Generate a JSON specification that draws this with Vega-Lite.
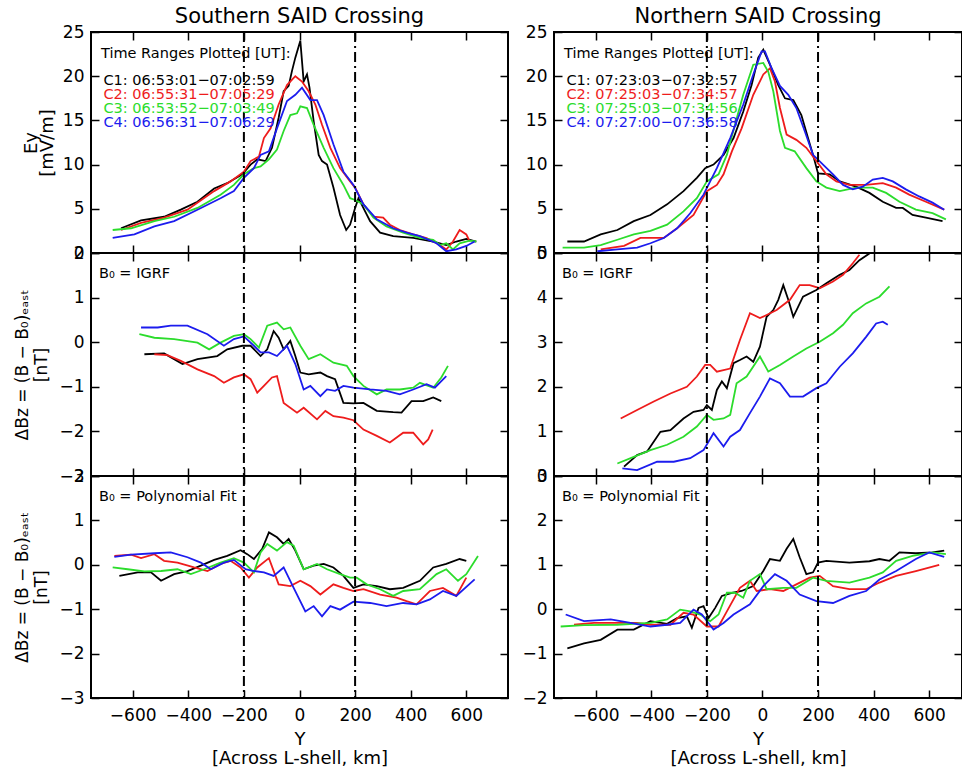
{
"$schema": "https://vega.github.io/schema/vega-lite/v6.json",
"padding": {"left": 12, "top": 4, "right": 0, "bottom": 0},
"autosize": {"type": "pad"},
"datasets": {
"ey_s": [
{"sc":"C1","km":-642,"v":2.8},{"sc":"C1","km":-570,"v":3.7},{"sc":"C1","km":-487,"v":4.1},{"sc":"C1","km":-427,"v":4.9},{"sc":"C1","km":-367,"v":5.8},{"sc":"C1","km":-307,"v":7.3},{"sc":"C1","km":-260,"v":7.9},{"sc":"C1","km":-206,"v":8.9},{"sc":"C1","km":-176,"v":10.0},{"sc":"C1","km":-152,"v":10.6},{"sc":"C1","km":-122,"v":10.4},{"sc":"C1","km":-99,"v":11.9},{"sc":"C1","km":-75,"v":15.3},{"sc":"C1","km":-57,"v":18.3},{"sc":"C1","km":-39,"v":18.9},{"sc":"C1","km":-27,"v":20.6},{"sc":"C1","km":-15,"v":22.1},{"sc":"C1","km":3,"v":24.0},{"sc":"C1","km":15,"v":19.4},{"sc":"C1","km":27,"v":20.2},{"sc":"C1","km":36,"v":18.7},{"sc":"C1","km":51,"v":14.9},{"sc":"C1","km":69,"v":11.1},{"sc":"C1","km":81,"v":10.4},{"sc":"C1","km":99,"v":10.0},{"sc":"C1","km":122,"v":7.4},{"sc":"C1","km":146,"v":4.3},{"sc":"C1","km":168,"v":2.6},{"sc":"C1","km":182,"v":3.2},{"sc":"C1","km":200,"v":5.1},{"sc":"C1","km":212,"v":6.2},{"sc":"C1","km":254,"v":3.6},{"sc":"C1","km":290,"v":2.3},{"sc":"C1","km":337,"v":1.9},{"sc":"C1","km":409,"v":1.7},{"sc":"C1","km":481,"v":1.3},{"sc":"C1","km":528,"v":0.9},{"sc":"C1","km":564,"v":1.3},{"sc":"C1","km":600,"v":1.6},{"sc":"C1","km":636,"v":1.3},
{"sc":"C2","km":-642,"v":2.6},{"sc":"C2","km":-570,"v":3.4},{"sc":"C2","km":-487,"v":4.0},{"sc":"C2","km":-403,"v":4.9},{"sc":"C2","km":-307,"v":7.0},{"sc":"C2","km":-248,"v":8.1},{"sc":"C2","km":-200,"v":9.2},{"sc":"C2","km":-176,"v":10.4},{"sc":"C2","km":-146,"v":10.9},{"sc":"C2","km":-128,"v":13.0},{"sc":"C2","km":-104,"v":14.1},{"sc":"C2","km":-75,"v":16.8},{"sc":"C2","km":-45,"v":19.0},{"sc":"C2","km":-15,"v":20.0},{"sc":"C2","km":9,"v":19.4},{"sc":"C2","km":33,"v":18.3},{"sc":"C2","km":57,"v":16.8},{"sc":"C2","km":81,"v":14.5},{"sc":"C2","km":111,"v":11.9},{"sc":"C2","km":146,"v":9.6},{"sc":"C2","km":182,"v":8.1},{"sc":"C2","km":200,"v":7.4},{"sc":"C2","km":230,"v":5.5},{"sc":"C2","km":266,"v":4.1},{"sc":"C2","km":301,"v":4.0},{"sc":"C2","km":325,"v":3.2},{"sc":"C2","km":361,"v":2.6},{"sc":"C2","km":409,"v":2.1},{"sc":"C2","km":457,"v":1.7},{"sc":"C2","km":505,"v":0.9},{"sc":"C2","km":528,"v":0.4},{"sc":"C2","km":552,"v":1.3},{"sc":"C2","km":576,"v":2.6},{"sc":"C2","km":600,"v":2.1},{"sc":"C2","km":612,"v":1.3},
{"sc":"C3","km":-672,"v":2.6},{"sc":"C3","km":-606,"v":2.8},{"sc":"C3","km":-522,"v":3.6},{"sc":"C3","km":-451,"v":4.1},{"sc":"C3","km":-367,"v":5.1},{"sc":"C3","km":-284,"v":6.6},{"sc":"C3","km":-236,"v":7.7},{"sc":"C3","km":-200,"v":8.9},{"sc":"C3","km":-164,"v":9.6},{"sc":"C3","km":-140,"v":9.8},{"sc":"C3","km":-110,"v":10.6},{"sc":"C3","km":-81,"v":11.7},{"sc":"C3","km":-57,"v":13.8},{"sc":"C3","km":-33,"v":15.6},{"sc":"C3","km":-9,"v":15.8},{"sc":"C3","km":3,"v":16.6},{"sc":"C3","km":27,"v":16.4},{"sc":"C3","km":51,"v":14.5},{"sc":"C3","km":87,"v":11.9},{"sc":"C3","km":122,"v":9.6},{"sc":"C3","km":158,"v":7.7},{"sc":"C3","km":182,"v":6.2},{"sc":"C3","km":200,"v":6.0},{"sc":"C3","km":230,"v":5.5},{"sc":"C3","km":266,"v":4.0},{"sc":"C3","km":313,"v":3.0},{"sc":"C3","km":373,"v":2.3},{"sc":"C3","km":433,"v":1.7},{"sc":"C3","km":481,"v":1.5},{"sc":"C3","km":505,"v":0.9},{"sc":"C3","km":528,"v":1.1},{"sc":"C3","km":552,"v":0.4},{"sc":"C3","km":576,"v":1.1},{"sc":"C3","km":612,"v":1.4},{"sc":"C3","km":636,"v":1.3},
{"sc":"C4","km":-672,"v":1.7},{"sc":"C4","km":-594,"v":2.1},{"sc":"C4","km":-522,"v":3.0},{"sc":"C4","km":-451,"v":3.6},{"sc":"C4","km":-367,"v":4.9},{"sc":"C4","km":-284,"v":6.2},{"sc":"C4","km":-236,"v":7.0},{"sc":"C4","km":-200,"v":8.5},{"sc":"C4","km":-164,"v":9.6},{"sc":"C4","km":-140,"v":11.1},{"sc":"C4","km":-110,"v":11.5},{"sc":"C4","km":-81,"v":14.1},{"sc":"C4","km":-45,"v":17.2},{"sc":"C4","km":-15,"v":17.9},{"sc":"C4","km":9,"v":18.7},{"sc":"C4","km":39,"v":17.3},{"sc":"C4","km":63,"v":17.3},{"sc":"C4","km":87,"v":15.6},{"sc":"C4","km":122,"v":12.3},{"sc":"C4","km":158,"v":9.2},{"sc":"C4","km":194,"v":7.7},{"sc":"C4","km":230,"v":5.5},{"sc":"C4","km":278,"v":3.8},{"sc":"C4","km":337,"v":2.8},{"sc":"C4","km":385,"v":2.3},{"sc":"C4","km":433,"v":1.9},{"sc":"C4","km":493,"v":1.1},{"sc":"C4","km":528,"v":0.2},{"sc":"C4","km":564,"v":0.4},{"sc":"C4","km":600,"v":0.8},{"sc":"C4","km":630,"v":1.3}
],
"ey_n": [
{"sc":"C1","km":-702,"v":1.3},{"sc":"C1","km":-642,"v":1.3},{"sc":"C1","km":-582,"v":2.1},{"sc":"C1","km":-522,"v":2.6},{"sc":"C1","km":-463,"v":3.6},{"sc":"C1","km":-403,"v":4.3},{"sc":"C1","km":-343,"v":5.5},{"sc":"C1","km":-284,"v":7.0},{"sc":"C1","km":-236,"v":8.5},{"sc":"C1","km":-206,"v":9.6},{"sc":"C1","km":-176,"v":10.0},{"sc":"C1","km":-140,"v":11.1},{"sc":"C1","km":-104,"v":13.0},{"sc":"C1","km":-69,"v":16.0},{"sc":"C1","km":-39,"v":19.0},{"sc":"C1","km":-15,"v":22.1},{"sc":"C1","km":3,"v":23.0},{"sc":"C1","km":27,"v":21.3},{"sc":"C1","km":57,"v":19.0},{"sc":"C1","km":81,"v":17.5},{"sc":"C1","km":111,"v":17.3},{"sc":"C1","km":140,"v":15.6},{"sc":"C1","km":164,"v":13.0},{"sc":"C1","km":182,"v":11.1},{"sc":"C1","km":200,"v":9.0},{"sc":"C1","km":242,"v":8.9},{"sc":"C1","km":278,"v":8.1},{"sc":"C1","km":337,"v":7.5},{"sc":"C1","km":385,"v":6.8},{"sc":"C1","km":433,"v":5.8},{"sc":"C1","km":481,"v":5.1},{"sc":"C1","km":505,"v":5.1},{"sc":"C1","km":540,"v":4.3},{"sc":"C1","km":588,"v":4.0},{"sc":"C1","km":648,"v":3.6},
{"sc":"C2","km":-582,"v":0.4},{"sc":"C2","km":-498,"v":0.8},{"sc":"C2","km":-439,"v":1.7},{"sc":"C2","km":-403,"v":1.7},{"sc":"C2","km":-355,"v":1.7},{"sc":"C2","km":-307,"v":2.8},{"sc":"C2","km":-248,"v":4.3},{"sc":"C2","km":-200,"v":7.0},{"sc":"C2","km":-164,"v":7.7},{"sc":"C2","km":-140,"v":8.9},{"sc":"C2","km":-110,"v":11.5},{"sc":"C2","km":-75,"v":14.1},{"sc":"C2","km":-33,"v":17.9},{"sc":"C2","km":3,"v":20.2},{"sc":"C2","km":27,"v":20.9},{"sc":"C2","km":45,"v":19.4},{"sc":"C2","km":63,"v":16.4},{"sc":"C2","km":87,"v":13.4},{"sc":"C2","km":122,"v":12.8},{"sc":"C2","km":158,"v":11.9},{"sc":"C2","km":194,"v":10.4},{"sc":"C2","km":230,"v":8.9},{"sc":"C2","km":266,"v":8.1},{"sc":"C2","km":313,"v":7.7},{"sc":"C2","km":373,"v":7.7},{"sc":"C2","km":433,"v":7.9},{"sc":"C2","km":481,"v":7.4},{"sc":"C2","km":528,"v":6.6},{"sc":"C2","km":588,"v":5.8},{"sc":"C2","km":654,"v":4.9},
{"sc":"C3","km":-719,"v":0.6},{"sc":"C3","km":-642,"v":0.6},{"sc":"C3","km":-582,"v":0.9},{"sc":"C3","km":-522,"v":1.5},{"sc":"C3","km":-463,"v":2.1},{"sc":"C3","km":-403,"v":2.5},{"sc":"C3","km":-343,"v":3.2},{"sc":"C3","km":-284,"v":4.7},{"sc":"C3","km":-236,"v":6.2},{"sc":"C3","km":-200,"v":8.1},{"sc":"C3","km":-158,"v":8.9},{"sc":"C3","km":-128,"v":11.1},{"sc":"C3","km":-99,"v":14.5},{"sc":"C3","km":-69,"v":17.9},{"sc":"C3","km":-33,"v":21.3},{"sc":"C3","km":3,"v":21.5},{"sc":"C3","km":21,"v":20.5},{"sc":"C3","km":39,"v":18.3},{"sc":"C3","km":63,"v":13.8},{"sc":"C3","km":81,"v":11.9},{"sc":"C3","km":116,"v":11.5},{"sc":"C3","km":158,"v":9.6},{"sc":"C3","km":194,"v":8.1},{"sc":"C3","km":230,"v":7.4},{"sc":"C3","km":278,"v":7.0},{"sc":"C3","km":337,"v":7.4},{"sc":"C3","km":397,"v":7.4},{"sc":"C3","km":445,"v":6.8},{"sc":"C3","km":493,"v":5.8},{"sc":"C3","km":552,"v":4.9},{"sc":"C3","km":612,"v":4.5},{"sc":"C3","km":660,"v":3.8},
{"sc":"C4","km":-594,"v":0.2},{"sc":"C4","km":-522,"v":0.4},{"sc":"C4","km":-451,"v":0.6},{"sc":"C4","km":-403,"v":1.1},{"sc":"C4","km":-355,"v":1.7},{"sc":"C4","km":-307,"v":2.8},{"sc":"C4","km":-260,"v":4.5},{"sc":"C4","km":-212,"v":6.6},{"sc":"C4","km":-164,"v":9.6},{"sc":"C4","km":-116,"v":13.0},{"sc":"C4","km":-69,"v":16.8},{"sc":"C4","km":-33,"v":20.2},{"sc":"C4","km":-3,"v":22.8},{"sc":"C4","km":9,"v":22.8},{"sc":"C4","km":33,"v":20.9},{"sc":"C4","km":63,"v":18.9},{"sc":"C4","km":93,"v":17.9},{"sc":"C4","km":122,"v":16.4},{"sc":"C4","km":152,"v":13.8},{"sc":"C4","km":182,"v":11.1},{"sc":"C4","km":218,"v":10.0},{"sc":"C4","km":254,"v":8.9},{"sc":"C4","km":290,"v":7.7},{"sc":"C4","km":325,"v":7.2},{"sc":"C4","km":361,"v":7.5},{"sc":"C4","km":397,"v":8.3},{"sc":"C4","km":433,"v":8.5},{"sc":"C4","km":469,"v":8.1},{"sc":"C4","km":516,"v":7.2},{"sc":"C4","km":564,"v":6.4},{"sc":"C4","km":612,"v":5.7},{"sc":"C4","km":654,"v":4.9}
],
"igrf_s": [
{"sc":"C1","km":-558,"v":-0.27},{"sc":"C1","km":-487,"v":-0.25},{"sc":"C1","km":-451,"v":-0.38},{"sc":"C1","km":-421,"v":-0.49},{"sc":"C1","km":-367,"v":-0.38},{"sc":"C1","km":-296,"v":-0.31},{"sc":"C1","km":-260,"v":-0.16},{"sc":"C1","km":-206,"v":-0.08},{"sc":"C1","km":-176,"v":-0.08},{"sc":"C1","km":-140,"v":-0.31},{"sc":"C1","km":-116,"v":-0.16},{"sc":"C1","km":-93,"v":0.25},{"sc":"C1","km":-75,"v":0.10},{"sc":"C1","km":-57,"v":-0.16},{"sc":"C1","km":-33,"v":0.03},{"sc":"C1","km":-15,"v":-0.31},{"sc":"C1","km":3,"v":-0.68},{"sc":"C1","km":33,"v":-0.72},{"sc":"C1","km":75,"v":-0.68},{"sc":"C1","km":99,"v":-0.76},{"sc":"C1","km":128,"v":-0.83},{"sc":"C1","km":158,"v":-1.36},{"sc":"C1","km":194,"v":-1.37},{"sc":"C1","km":230,"v":-1.36},{"sc":"C1","km":278,"v":-1.54},{"sc":"C1","km":337,"v":-1.57},{"sc":"C1","km":367,"v":-1.58},{"sc":"C1","km":403,"v":-1.32},{"sc":"C1","km":445,"v":-1.32},{"sc":"C1","km":481,"v":-1.24},{"sc":"C1","km":510,"v":-1.32},
{"sc":"C2","km":-522,"v":-0.27},{"sc":"C2","km":-475,"v":-0.29},{"sc":"C2","km":-427,"v":-0.42},{"sc":"C2","km":-367,"v":-0.61},{"sc":"C2","km":-307,"v":-0.76},{"sc":"C2","km":-272,"v":-0.91},{"sc":"C2","km":-236,"v":-0.79},{"sc":"C2","km":-200,"v":-0.72},{"sc":"C2","km":-176,"v":-0.83},{"sc":"C2","km":-152,"v":-1.13},{"sc":"C2","km":-122,"v":-0.94},{"sc":"C2","km":-99,"v":-0.79},{"sc":"C2","km":-81,"v":-0.76},{"sc":"C2","km":-57,"v":-1.36},{"sc":"C2","km":-9,"v":-1.58},{"sc":"C2","km":15,"v":-1.47},{"sc":"C2","km":63,"v":-1.73},{"sc":"C2","km":93,"v":-1.54},{"sc":"C2","km":122,"v":-1.66},{"sc":"C2","km":158,"v":-1.69},{"sc":"C2","km":194,"v":-1.75},{"sc":"C2","km":230,"v":-1.96},{"sc":"C2","km":278,"v":-2.10},{"sc":"C2","km":325,"v":-2.25},{"sc":"C2","km":373,"v":-2.03},{"sc":"C2","km":409,"v":-2.03},{"sc":"C2","km":445,"v":-2.29},{"sc":"C2","km":463,"v":-2.18},{"sc":"C2","km":479,"v":-1.96},
{"sc":"C3","km":-576,"v":0.18},{"sc":"C3","km":-522,"v":0.10},{"sc":"C3","km":-451,"v":0.07},{"sc":"C3","km":-367,"v":-0.01},{"sc":"C3","km":-325,"v":-0.16},{"sc":"C3","km":-284,"v":-0.01},{"sc":"C3","km":-236,"v":0.14},{"sc":"C3","km":-200,"v":0.18},{"sc":"C3","km":-176,"v":0.07},{"sc":"C3","km":-146,"v":-0.12},{"sc":"C3","km":-116,"v":0.37},{"sc":"C3","km":-81,"v":0.44},{"sc":"C3","km":-57,"v":0.29},{"sc":"C3","km":-33,"v":0.33},{"sc":"C3","km":3,"v":-0.08},{"sc":"C3","km":33,"v":-0.38},{"sc":"C3","km":75,"v":-0.27},{"sc":"C3","km":122,"v":-0.46},{"sc":"C3","km":170,"v":-0.53},{"sc":"C3","km":194,"v":-0.76},{"sc":"C3","km":230,"v":-0.98},{"sc":"C3","km":278,"v":-1.17},{"sc":"C3","km":313,"v":-1.06},{"sc":"C3","km":361,"v":-1.06},{"sc":"C3","km":409,"v":-1.02},{"sc":"C3","km":433,"v":-0.91},{"sc":"C3","km":481,"v":-1.02},{"sc":"C3","km":510,"v":-0.79},{"sc":"C3","km":534,"v":-0.53},
{"sc":"C4","km":-570,"v":0.33},{"sc":"C4","km":-510,"v":0.33},{"sc":"C4","km":-463,"v":0.37},{"sc":"C4","km":-403,"v":0.37},{"sc":"C4","km":-331,"v":0.18},{"sc":"C4","km":-272,"v":-0.08},{"sc":"C4","km":-236,"v":0.07},{"sc":"C4","km":-200,"v":0.13},{"sc":"C4","km":-164,"v":-0.08},{"sc":"C4","km":-140,"v":-0.23},{"sc":"C4","km":-110,"v":-0.23},{"sc":"C4","km":-81,"v":-0.31},{"sc":"C4","km":-45,"v":-0.08},{"sc":"C4","km":-15,"v":-0.49},{"sc":"C4","km":15,"v":-1.06},{"sc":"C4","km":39,"v":-0.98},{"sc":"C4","km":75,"v":-1.21},{"sc":"C4","km":99,"v":-1.06},{"sc":"C4","km":128,"v":-1.09},{"sc":"C4","km":158,"v":-0.98},{"sc":"C4","km":194,"v":-1.02},{"sc":"C4","km":254,"v":-1.06},{"sc":"C4","km":313,"v":-1.09},{"sc":"C4","km":361,"v":-1.17},{"sc":"C4","km":409,"v":-1.06},{"sc":"C4","km":457,"v":-0.94},{"sc":"C4","km":487,"v":-1.02},{"sc":"C4","km":528,"v":-0.76}
],
"igrf_n": [
{"sc":"C1","km":-498,"v":0.21},{"sc":"C1","km":-451,"v":0.47},{"sc":"C1","km":-415,"v":0.55},{"sc":"C1","km":-367,"v":0.99},{"sc":"C1","km":-331,"v":1.03},{"sc":"C1","km":-284,"v":1.29},{"sc":"C1","km":-248,"v":1.44},{"sc":"C1","km":-212,"v":1.48},{"sc":"C1","km":-200,"v":1.59},{"sc":"C1","km":-182,"v":1.48},{"sc":"C1","km":-164,"v":1.93},{"sc":"C1","km":-146,"v":2.12},{"sc":"C1","km":-128,"v":1.97},{"sc":"C1","km":-104,"v":2.53},{"sc":"C1","km":-81,"v":2.60},{"sc":"C1","km":-57,"v":2.68},{"sc":"C1","km":-33,"v":2.56},{"sc":"C1","km":-9,"v":2.90},{"sc":"C1","km":15,"v":3.57},{"sc":"C1","km":39,"v":3.72},{"sc":"C1","km":57,"v":3.95},{"sc":"C1","km":75,"v":4.28},{"sc":"C1","km":93,"v":3.95},{"sc":"C1","km":111,"v":3.57},{"sc":"C1","km":146,"v":4.02},{"sc":"C1","km":194,"v":4.17},{"sc":"C1","km":230,"v":4.32},{"sc":"C1","km":278,"v":4.51},{"sc":"C1","km":313,"v":4.62},{"sc":"C1","km":349,"v":4.84},{"sc":"C1","km":385,"v":4.99},
{"sc":"C2","km":-510,"v":1.29},{"sc":"C2","km":-451,"v":1.48},{"sc":"C2","km":-391,"v":1.67},{"sc":"C2","km":-331,"v":1.85},{"sc":"C2","km":-272,"v":2.00},{"sc":"C2","km":-236,"v":2.23},{"sc":"C2","km":-206,"v":2.49},{"sc":"C2","km":-188,"v":2.49},{"sc":"C2","km":-164,"v":2.34},{"sc":"C2","km":-116,"v":2.41},{"sc":"C2","km":-81,"v":3.05},{"sc":"C2","km":-45,"v":3.65},{"sc":"C2","km":-9,"v":3.54},{"sc":"C2","km":15,"v":3.61},{"sc":"C2","km":51,"v":3.72},{"sc":"C2","km":99,"v":3.95},{"sc":"C2","km":134,"v":4.28},{"sc":"C2","km":170,"v":4.28},{"sc":"C2","km":206,"v":4.21},{"sc":"C2","km":254,"v":4.36},{"sc":"C2","km":290,"v":4.51},{"sc":"C2","km":325,"v":4.77},{"sc":"C2","km":349,"v":4.96},
{"sc":"C3","km":-522,"v":0.28},{"sc":"C3","km":-463,"v":0.43},{"sc":"C3","km":-403,"v":0.58},{"sc":"C3","km":-343,"v":0.70},{"sc":"C3","km":-284,"v":0.88},{"sc":"C3","km":-236,"v":1.11},{"sc":"C3","km":-200,"v":1.37},{"sc":"C3","km":-176,"v":1.26},{"sc":"C3","km":-140,"v":1.29},{"sc":"C3","km":-116,"v":1.37},{"sc":"C3","km":-93,"v":2.08},{"sc":"C3","km":-57,"v":2.23},{"sc":"C3","km":-9,"v":2.68},{"sc":"C3","km":21,"v":2.34},{"sc":"C3","km":63,"v":2.49},{"sc":"C3","km":111,"v":2.68},{"sc":"C3","km":158,"v":2.86},{"sc":"C3","km":206,"v":3.01},{"sc":"C3","km":254,"v":3.20},{"sc":"C3","km":290,"v":3.39},{"sc":"C3","km":325,"v":3.65},{"sc":"C3","km":373,"v":3.87},{"sc":"C3","km":421,"v":4.02},{"sc":"C3","km":457,"v":4.25},
{"sc":"C4","km":-504,"v":0.17},{"sc":"C4","km":-451,"v":0.13},{"sc":"C4","km":-379,"v":0.32},{"sc":"C4","km":-319,"v":0.32},{"sc":"C4","km":-260,"v":0.40},{"sc":"C4","km":-212,"v":0.58},{"sc":"C4","km":-176,"v":0.96},{"sc":"C4","km":-140,"v":0.66},{"sc":"C4","km":-116,"v":0.88},{"sc":"C4","km":-81,"v":1.03},{"sc":"C4","km":-45,"v":1.41},{"sc":"C4","km":-9,"v":1.78},{"sc":"C4","km":27,"v":2.19},{"sc":"C4","km":63,"v":2.08},{"sc":"C4","km":99,"v":1.78},{"sc":"C4","km":146,"v":1.78},{"sc":"C4","km":194,"v":1.97},{"sc":"C4","km":230,"v":2.08},{"sc":"C4","km":278,"v":2.45},{"sc":"C4","km":325,"v":2.75},{"sc":"C4","km":373,"v":3.12},{"sc":"C4","km":409,"v":3.42},{"sc":"C4","km":433,"v":3.46},{"sc":"C4","km":451,"v":3.39}
],
"poly_s": [
{"sc":"C1","km":-648,"v":-0.25},{"sc":"C1","km":-582,"v":-0.17},{"sc":"C1","km":-534,"v":-0.17},{"sc":"C1","km":-498,"v":-0.36},{"sc":"C1","km":-451,"v":-0.21},{"sc":"C1","km":-403,"v":-0.14},{"sc":"C1","km":-355,"v":-0.02},{"sc":"C1","km":-307,"v":0.11},{"sc":"C1","km":-260,"v":0.20},{"sc":"C1","km":-212,"v":0.33},{"sc":"C1","km":-188,"v":0.24},{"sc":"C1","km":-164,"v":0.13},{"sc":"C1","km":-134,"v":0.36},{"sc":"C1","km":-110,"v":0.73},{"sc":"C1","km":-81,"v":0.62},{"sc":"C1","km":-57,"v":0.47},{"sc":"C1","km":-39,"v":0.58},{"sc":"C1","km":-15,"v":0.32},{"sc":"C1","km":15,"v":-0.10},{"sc":"C1","km":51,"v":-0.02},{"sc":"C1","km":87,"v":0.02},{"sc":"C1","km":122,"v":-0.06},{"sc":"C1","km":158,"v":-0.25},{"sc":"C1","km":194,"v":-0.52},{"sc":"C1","km":230,"v":-0.44},{"sc":"C1","km":278,"v":-0.48},{"sc":"C1","km":325,"v":-0.55},{"sc":"C1","km":373,"v":-0.52},{"sc":"C1","km":433,"v":-0.36},{"sc":"C1","km":481,"v":-0.06},{"sc":"C1","km":528,"v":0.02},{"sc":"C1","km":576,"v":0.13},{"sc":"C1","km":600,"v":0.09},
{"sc":"C2","km":-666,"v":0.20},{"sc":"C2","km":-606,"v":0.23},{"sc":"C2","km":-570,"v":0.15},{"sc":"C2","km":-522,"v":0.24},{"sc":"C2","km":-487,"v":0.09},{"sc":"C2","km":-439,"v":0.05},{"sc":"C2","km":-379,"v":-0.06},{"sc":"C2","km":-331,"v":-0.14},{"sc":"C2","km":-284,"v":0.02},{"sc":"C2","km":-248,"v":0.09},{"sc":"C2","km":-212,"v":-0.06},{"sc":"C2","km":-182,"v":-0.29},{"sc":"C2","km":-152,"v":-0.06},{"sc":"C2","km":-110,"v":0.15},{"sc":"C2","km":-75,"v":-0.44},{"sc":"C2","km":-33,"v":-0.48},{"sc":"C2","km":3,"v":-0.36},{"sc":"C2","km":39,"v":-0.48},{"sc":"C2","km":75,"v":-0.67},{"sc":"C2","km":122,"v":-0.44},{"sc":"C2","km":158,"v":-0.52},{"sc":"C2","km":194,"v":-0.59},{"sc":"C2","km":230,"v":-0.55},{"sc":"C2","km":290,"v":-0.67},{"sc":"C2","km":349,"v":-0.74},{"sc":"C2","km":385,"v":-0.82},{"sc":"C2","km":421,"v":-0.89},{"sc":"C2","km":469,"v":-0.59},{"sc":"C2","km":516,"v":-0.52},{"sc":"C2","km":564,"v":-0.70},{"sc":"C2","km":600,"v":-0.29},
{"sc":"C3","km":-672,"v":-0.06},{"sc":"C3","km":-618,"v":-0.10},{"sc":"C3","km":-558,"v":-0.15},{"sc":"C3","km":-498,"v":-0.14},{"sc":"C3","km":-439,"v":-0.10},{"sc":"C3","km":-391,"v":-0.21},{"sc":"C3","km":-343,"v":-0.10},{"sc":"C3","km":-284,"v":0.05},{"sc":"C3","km":-236,"v":0.15},{"sc":"C3","km":-200,"v":0.05},{"sc":"C3","km":-164,"v":-0.17},{"sc":"C3","km":-140,"v":0.28},{"sc":"C3","km":-116,"v":0.47},{"sc":"C3","km":-81,"v":0.32},{"sc":"C3","km":-45,"v":0.51},{"sc":"C3","km":-21,"v":0.43},{"sc":"C3","km":15,"v":-0.10},{"sc":"C3","km":63,"v":0.02},{"sc":"C3","km":99,"v":-0.10},{"sc":"C3","km":146,"v":-0.21},{"sc":"C3","km":182,"v":-0.29},{"sc":"C3","km":206,"v":-0.29},{"sc":"C3","km":242,"v":-0.44},{"sc":"C3","km":290,"v":-0.55},{"sc":"C3","km":337,"v":-0.70},{"sc":"C3","km":373,"v":-0.59},{"sc":"C3","km":433,"v":-0.55},{"sc":"C3","km":493,"v":-0.21},{"sc":"C3","km":528,"v":-0.10},{"sc":"C3","km":570,"v":-0.36},{"sc":"C3","km":600,"v":-0.21},{"sc":"C3","km":642,"v":0.20},
{"sc":"C4","km":-666,"v":0.18},{"sc":"C4","km":-606,"v":0.23},{"sc":"C4","km":-522,"v":0.26},{"sc":"C4","km":-463,"v":0.28},{"sc":"C4","km":-403,"v":0.17},{"sc":"C4","km":-355,"v":0.05},{"sc":"C4","km":-319,"v":-0.10},{"sc":"C4","km":-272,"v":0.05},{"sc":"C4","km":-236,"v":0.11},{"sc":"C4","km":-194,"v":-0.10},{"sc":"C4","km":-164,"v":-0.14},{"sc":"C4","km":-128,"v":-0.17},{"sc":"C4","km":-93,"v":-0.25},{"sc":"C4","km":-57,"v":-0.06},{"sc":"C4","km":-21,"v":-0.52},{"sc":"C4","km":21,"v":-1.05},{"sc":"C4","km":51,"v":-0.93},{"sc":"C4","km":81,"v":-1.16},{"sc":"C4","km":111,"v":-0.93},{"sc":"C4","km":146,"v":-1.01},{"sc":"C4","km":194,"v":-0.83},{"sc":"C4","km":254,"v":-0.86},{"sc":"C4","km":313,"v":-0.93},{"sc":"C4","km":373,"v":-0.86},{"sc":"C4","km":421,"v":-0.89},{"sc":"C4","km":469,"v":-0.78},{"sc":"C4","km":516,"v":-0.59},{"sc":"C4","km":564,"v":-0.70},{"sc":"C4","km":630,"v":-0.33}
],
"poly_n": [
{"sc":"C1","km":-702,"v":-0.88},{"sc":"C1","km":-642,"v":-0.77},{"sc":"C1","km":-582,"v":-0.69},{"sc":"C1","km":-522,"v":-0.46},{"sc":"C1","km":-463,"v":-0.46},{"sc":"C1","km":-403,"v":-0.27},{"sc":"C1","km":-343,"v":-0.33},{"sc":"C1","km":-307,"v":-0.20},{"sc":"C1","km":-272,"v":-0.16},{"sc":"C1","km":-254,"v":-0.42},{"sc":"C1","km":-230,"v":0.03},{"sc":"C1","km":-212,"v":0.07},{"sc":"C1","km":-194,"v":-0.20},{"sc":"C1","km":-170,"v":0.03},{"sc":"C1","km":-146,"v":0.30},{"sc":"C1","km":-110,"v":0.37},{"sc":"C1","km":-75,"v":0.41},{"sc":"C1","km":-33,"v":0.52},{"sc":"C1","km":3,"v":0.86},{"sc":"C1","km":27,"v":1.13},{"sc":"C1","km":63,"v":1.09},{"sc":"C1","km":87,"v":1.36},{"sc":"C1","km":111,"v":1.58},{"sc":"C1","km":134,"v":1.17},{"sc":"C1","km":158,"v":0.79},{"sc":"C1","km":182,"v":0.83},{"sc":"C1","km":200,"v":1.05},{"sc":"C1","km":230,"v":1.09},{"sc":"C1","km":313,"v":1.05},{"sc":"C1","km":385,"v":1.08},{"sc":"C1","km":421,"v":1.13},{"sc":"C1","km":457,"v":1.09},{"sc":"C1","km":493,"v":1.28},{"sc":"C1","km":552,"v":1.26},{"sc":"C1","km":612,"v":1.28},{"sc":"C1","km":654,"v":1.32},
{"sc":"C2","km":-678,"v":-0.35},{"sc":"C2","km":-606,"v":-0.31},{"sc":"C2","km":-522,"v":-0.31},{"sc":"C2","km":-451,"v":-0.31},{"sc":"C2","km":-403,"v":-0.35},{"sc":"C2","km":-331,"v":-0.35},{"sc":"C2","km":-284,"v":-0.08},{"sc":"C2","km":-248,"v":-0.12},{"sc":"C2","km":-200,"v":-0.39},{"sc":"C2","km":-158,"v":-0.39},{"sc":"C2","km":-128,"v":-0.05},{"sc":"C2","km":-81,"v":0.48},{"sc":"C2","km":-45,"v":0.64},{"sc":"C2","km":-21,"v":0.41},{"sc":"C2","km":27,"v":0.45},{"sc":"C2","km":75,"v":0.41},{"sc":"C2","km":122,"v":0.56},{"sc":"C2","km":170,"v":0.71},{"sc":"C2","km":206,"v":0.75},{"sc":"C2","km":254,"v":0.52},{"sc":"C2","km":313,"v":0.45},{"sc":"C2","km":373,"v":0.45},{"sc":"C2","km":421,"v":0.60},{"sc":"C2","km":481,"v":0.75},{"sc":"C2","km":552,"v":0.86},{"sc":"C2","km":636,"v":1.00},
{"sc":"C3","km":-726,"v":-0.39},{"sc":"C3","km":-642,"v":-0.36},{"sc":"C3","km":-522,"v":-0.35},{"sc":"C3","km":-403,"v":-0.31},{"sc":"C3","km":-343,"v":-0.23},{"sc":"C3","km":-296,"v":-0.01},{"sc":"C3","km":-260,"v":-0.05},{"sc":"C3","km":-224,"v":-0.12},{"sc":"C3","km":-188,"v":-0.27},{"sc":"C3","km":-158,"v":-0.12},{"sc":"C3","km":-128,"v":0.37},{"sc":"C3","km":-99,"v":0.37},{"sc":"C3","km":-69,"v":0.26},{"sc":"C3","km":-45,"v":0.64},{"sc":"C3","km":-9,"v":0.79},{"sc":"C3","km":15,"v":0.45},{"sc":"C3","km":75,"v":0.48},{"sc":"C3","km":122,"v":0.48},{"sc":"C3","km":182,"v":0.71},{"sc":"C3","km":230,"v":0.64},{"sc":"C3","km":313,"v":0.60},{"sc":"C3","km":385,"v":0.71},{"sc":"C3","km":433,"v":0.83},{"sc":"C3","km":481,"v":1.09},{"sc":"C3","km":540,"v":1.20},{"sc":"C3","km":612,"v":1.28},{"sc":"C3","km":660,"v":1.24},
{"sc":"C4","km":-708,"v":-0.12},{"sc":"C4","km":-642,"v":-0.27},{"sc":"C4","km":-546,"v":-0.23},{"sc":"C4","km":-475,"v":-0.31},{"sc":"C4","km":-403,"v":-0.39},{"sc":"C4","km":-343,"v":-0.35},{"sc":"C4","km":-296,"v":-0.31},{"sc":"C4","km":-248,"v":-0.01},{"sc":"C4","km":-218,"v":-0.12},{"sc":"C4","km":-176,"v":-0.46},{"sc":"C4","km":-140,"v":-0.31},{"sc":"C4","km":-104,"v":-0.12},{"sc":"C4","km":-45,"v":0.11},{"sc":"C4","km":3,"v":0.52},{"sc":"C4","km":45,"v":0.79},{"sc":"C4","km":87,"v":0.64},{"sc":"C4","km":134,"v":0.33},{"sc":"C4","km":194,"v":0.18},{"sc":"C4","km":254,"v":0.14},{"sc":"C4","km":313,"v":0.30},{"sc":"C4","km":373,"v":0.41},{"sc":"C4","km":421,"v":0.67},{"sc":"C4","km":481,"v":0.86},{"sc":"C4","km":552,"v":1.13},{"sc":"C4","km":600,"v":1.28},{"sc":"C4","km":654,"v":1.18}
]
},
"columns": 2,
"spacing": {"row": 0, "column": 46},
"bounds": "flush",
"resolve": {"scale": {"color": "independent"}, "legend": {"color": "independent"}},
"concat": [
{
"width": 417, "height": 221,
"data": {"name": "ey_s"},
"title": {"text": "Southern SAID Crossing", "fontSize": 21, "fontWeight": "normal", "anchor": "middle", "frame": "group", "offset": -3.5, "color": "black"},
"layer": [
{"mark": {"type": "line", "strokeWidth": 1.8, "clip": true},
 "encoding": {
  "x": {"field": "km", "type": "quantitative", "scale": {"domain": [-750, 750], "nice": false, "zero": false}, "axis": {"orient": "bottom", "values": [-600,-400,-200,0,200,400,600], "offset": -8, "tickSize": 8, "labels": false, "title": null}},
  "y": {"field": "v", "type": "quantitative", "scale": {"domain": [0, 25], "nice": false, "zero": false}, "axis": {"orient": "left", "values": [0,5,10,15,20,25], "offset": -8, "tickSize": 8, "labelPadding": 7, "format": "d", "title": ["Ey", "[mV/m]"], "titleFontSize": 18, "titleLineHeight": 16, "titlePadding": 6}},
  "color": {"field": "sc", "type": "nominal", "scale": {"domain": ["C1","C2","C3","C4"], "range": ["#000000","#ee1c1c","#2cdc2c","#1c1cee"]},
   "legend": {"orient": "top-left", "offset": 10, "title": "Time Ranges Plotted [UT]:", "titleLimit": 400, "titleBaseline": "line-top", "titleLineHeight": 24, "titlePadding": 17, "symbolType": "circle", "symbolSize": 0, "symbolStrokeWidth": 0, "labelOffset": -12, "rowPadding": -5,
    "labelExpr": "datum.label=='C1'?'C1: 06:53:01−07:02:59':datum.label=='C2'?'C2: 06:55:31−07:05:29':datum.label=='C3'?'C3: 06:53:52−07:03:49':'C4: 06:56:31−07:06:29'",
    "labelColor": {"expr": "datum.value=='C2'?'#ee1c1c':datum.value=='C3'?'#2cdc2c':datum.value=='C4'?'#1c1cee':'#000000'"}}}
 }},
{"mark": {"type": "point", "opacity": 0},
 "encoding": {
  "x": {"field": "km", "type": "quantitative", "axis": {"orient": "top", "values": [-600,-400,-200,0,200,400,600], "offset": -8, "tickSize": 8, "labels": false, "title": null}},
  "y": {"field": "v", "type": "quantitative", "axis": {"orient": "right", "values": [0,5,10,15,20,25], "offset": -8, "tickSize": 8, "labels": false, "title": null}}
 }},
{"data": {"values": [{"xr": -200}, {"xr": 200}]},
 "mark": {"type": "rule", "strokeDash": [10, 4, 2, 4], "strokeWidth": 2, "color": "black"},
 "encoding": {"x": {"field": "xr", "type": "quantitative", "axis": null}}}
],
"resolve": {"axis": {"x": "independent", "y": "independent"}}
},
{
"width": 408, "height": 221,
"data": {"name": "ey_n"},
"title": {"text": "Northern SAID Crossing", "fontSize": 21, "fontWeight": "normal", "anchor": "middle", "frame": "group", "offset": -3.5, "color": "black"},
"layer": [
{"mark": {"type": "line", "strokeWidth": 1.8, "clip": true},
 "encoding": {
  "x": {"field": "km", "type": "quantitative", "scale": {"domain": [-750, 718], "nice": false, "zero": false}, "axis": {"orient": "bottom", "values": [-600,-400,-200,0,200,400,600], "offset": -8, "tickSize": 8, "labels": false, "title": null}},
  "y": {"field": "v", "type": "quantitative", "scale": {"domain": [0, 25], "nice": false, "zero": false}, "axis": {"orient": "left", "values": [0,5,10,15,20,25], "offset": -8, "tickSize": 8, "labelPadding": 7, "format": "d", "title": null}},
  "color": {"field": "sc", "type": "nominal", "scale": {"domain": ["C1","C2","C3","C4"], "range": ["#000000","#ee1c1c","#2cdc2c","#1c1cee"]},
   "legend": {"orient": "top-left", "offset": 10, "title": "Time Ranges Plotted [UT]:", "titleLimit": 400, "titleBaseline": "line-top", "titleLineHeight": 24, "titlePadding": 17, "symbolType": "circle", "symbolSize": 0, "symbolStrokeWidth": 0, "labelOffset": -12, "rowPadding": -5,
    "labelExpr": "datum.label=='C1'?'C1: 07:23:03−07:32:57':datum.label=='C2'?'C2: 07:25:03−07:34:57':datum.label=='C3'?'C3: 07:25:03−07:34:56':'C4: 07:27:00−07:36:58'",
    "labelColor": {"expr": "datum.value=='C2'?'#ee1c1c':datum.value=='C3'?'#2cdc2c':datum.value=='C4'?'#1c1cee':'#000000'"}}}
 }},
{"mark": {"type": "point", "opacity": 0},
 "encoding": {
  "x": {"field": "km", "type": "quantitative", "axis": {"orient": "top", "values": [-600,-400,-200,0,200,400,600], "offset": -8, "tickSize": 8, "labels": false, "title": null}},
  "y": {"field": "v", "type": "quantitative", "axis": {"orient": "right", "values": [0,5,10,15,20,25], "offset": -8, "tickSize": 8, "labels": false, "title": null}}
 }},
{"data": {"values": [{"xr": -200}, {"xr": 200}]},
 "mark": {"type": "rule", "strokeDash": [10, 4, 2, 4], "strokeWidth": 2, "color": "black"},
 "encoding": {"x": {"field": "xr", "type": "quantitative", "axis": null}}}
],
"resolve": {"axis": {"x": "independent", "y": "independent"}}
},
{
"width": 417, "height": 223,
"data": {"name": "igrf_s"},
"title": {"text": "B₀ = IGRF", "anchor": "start", "frame": "group", "orient": "top", "offset": -48, "baseline": "alphabetic", "dx": 8, "fontSize": 14.5, "fontWeight": "normal", "color": "black"},
"layer": [
{"mark": {"type": "line", "strokeWidth": 1.8, "clip": true},
 "encoding": {
  "x": {"field": "km", "type": "quantitative", "scale": {"domain": [-750, 750], "nice": false, "zero": false}, "axis": {"orient": "bottom", "values": [-600,-400,-200,0,200,400,600], "offset": -8, "tickSize": 8, "labels": false, "title": null}},
  "y": {"field": "v", "type": "quantitative", "scale": {"domain": [-3, 2], "nice": false, "zero": false}, "axis": {"orient": "left", "values": [-3,-2,-1,0,1,2], "offset": -8, "tickSize": 8, "labelPadding": 7, "format": "d", "title": ["ΔBz = (B − B₀)ₑₐₛₜ", "[nT]"], "titleFontSize": 17, "titlePadding": 8}},
  "color": {"field": "sc", "type": "nominal", "scale": {"domain": ["C1","C2","C3","C4"], "range": ["#000000","#ee1c1c","#2cdc2c","#1c1cee"]}, "legend": null}
 }},
{"mark": {"type": "point", "opacity": 0},
 "encoding": {
  "x": {"field": "km", "type": "quantitative", "axis": {"orient": "top", "values": [-600,-400,-200,0,200,400,600], "offset": -8, "tickSize": 8, "labels": false, "title": null}},
  "y": {"field": "v", "type": "quantitative", "axis": {"orient": "right", "values": [-3,-2,-1,0,1,2], "offset": -8, "tickSize": 8, "labels": false, "title": null}}
 }},
{"data": {"values": [{"xr": -200}, {"xr": 200}]},
 "mark": {"type": "rule", "strokeDash": [10, 4, 2, 4], "strokeWidth": 2, "color": "black"},
 "encoding": {"x": {"field": "xr", "type": "quantitative", "axis": null}}}
],
"resolve": {"axis": {"x": "independent", "y": "independent"}}
},
{
"width": 408, "height": 223,
"data": {"name": "igrf_n"},
"title": {"text": "B₀ = IGRF", "anchor": "start", "frame": "group", "orient": "top", "offset": -48, "baseline": "alphabetic", "dx": 8, "fontSize": 14.5, "fontWeight": "normal", "color": "black"},
"layer": [
{"mark": {"type": "line", "strokeWidth": 1.8, "clip": true},
 "encoding": {
  "x": {"field": "km", "type": "quantitative", "scale": {"domain": [-750, 718], "nice": false, "zero": false}, "axis": {"orient": "bottom", "values": [-600,-400,-200,0,200,400,600], "offset": -8, "tickSize": 8, "labels": false, "title": null}},
  "y": {"field": "v", "type": "quantitative", "scale": {"domain": [0, 5], "nice": false, "zero": false}, "axis": {"orient": "left", "values": [0,1,2,3,4,5], "offset": -8, "tickSize": 8, "labelPadding": 7, "format": "d", "title": null}},
  "color": {"field": "sc", "type": "nominal", "scale": {"domain": ["C1","C2","C3","C4"], "range": ["#000000","#ee1c1c","#2cdc2c","#1c1cee"]}, "legend": null}
 }},
{"mark": {"type": "point", "opacity": 0},
 "encoding": {
  "x": {"field": "km", "type": "quantitative", "axis": {"orient": "top", "values": [-600,-400,-200,0,200,400,600], "offset": -8, "tickSize": 8, "labels": false, "title": null}},
  "y": {"field": "v", "type": "quantitative", "axis": {"orient": "right", "values": [0,1,2,3,4,5], "offset": -8, "tickSize": 8, "labels": false, "title": null}}
 }},
{"data": {"values": [{"xr": -200}, {"xr": 200}]},
 "mark": {"type": "rule", "strokeDash": [10, 4, 2, 4], "strokeWidth": 2, "color": "black"},
 "encoding": {"x": {"field": "xr", "type": "quantitative", "axis": null}}}
],
"resolve": {"axis": {"x": "independent", "y": "independent"}}
},
{
"width": 417, "height": 222,
"data": {"name": "poly_s"},
"title": {"text": "B₀ = Polynomial Fit", "anchor": "start", "frame": "group", "orient": "top", "offset": -48, "baseline": "alphabetic", "dx": 8, "fontSize": 14.5, "fontWeight": "normal", "color": "black"},
"layer": [
{"mark": {"type": "line", "strokeWidth": 1.8, "clip": true},
 "encoding": {
  "x": {"field": "km", "type": "quantitative", "scale": {"domain": [-750, 750], "nice": false, "zero": false}, "axis": {"orient": "bottom", "values": [-600,-400,-200,0,200,400,600], "offset": -8, "tickSize": 8, "labelPadding": 9, "format": "d", "title": ["Y", "[Across L-shell, km]"], "titleFontSize": 18, "titleLineHeight": 19, "titlePadding": 7}},
  "y": {"field": "v", "type": "quantitative", "scale": {"domain": [-3, 2], "nice": false, "zero": false}, "axis": {"orient": "left", "values": [-3,-2,-1,0,1,2], "offset": -8, "tickSize": 8, "labelPadding": 7, "format": "d", "title": ["ΔBz = (B − B₀)ₑₐₛₜ", "[nT]"], "titleFontSize": 17, "titlePadding": 8}},
  "color": {"field": "sc", "type": "nominal", "scale": {"domain": ["C1","C2","C3","C4"], "range": ["#000000","#ee1c1c","#2cdc2c","#1c1cee"]}, "legend": null}
 }},
{"mark": {"type": "point", "opacity": 0},
 "encoding": {
  "x": {"field": "km", "type": "quantitative", "axis": {"orient": "top", "values": [-600,-400,-200,0,200,400,600], "offset": -8, "tickSize": 8, "labels": false, "title": null}},
  "y": {"field": "v", "type": "quantitative", "axis": {"orient": "right", "values": [-3,-2,-1,0,1,2], "offset": -8, "tickSize": 8, "labels": false, "title": null}}
 }},
{"data": {"values": [{"xr": -200}, {"xr": 200}]},
 "mark": {"type": "rule", "strokeDash": [10, 4, 2, 4], "strokeWidth": 2, "color": "black"},
 "encoding": {"x": {"field": "xr", "type": "quantitative", "axis": null}}}
],
"resolve": {"axis": {"x": "independent", "y": "independent"}}
},
{
"width": 408, "height": 222,
"data": {"name": "poly_n"},
"title": {"text": "B₀ = Polynomial Fit", "anchor": "start", "frame": "group", "orient": "top", "offset": -48, "baseline": "alphabetic", "dx": 8, "fontSize": 14.5, "fontWeight": "normal", "color": "black"},
"layer": [
{"mark": {"type": "line", "strokeWidth": 1.8, "clip": true},
 "encoding": {
  "x": {"field": "km", "type": "quantitative", "scale": {"domain": [-750, 718], "nice": false, "zero": false}, "axis": {"orient": "bottom", "values": [-600,-400,-200,0,200,400,600], "offset": -8, "tickSize": 8, "labelPadding": 9, "format": "d", "title": ["Y", "[Across L-shell, km]"], "titleFontSize": 18, "titleLineHeight": 19, "titlePadding": 7}},
  "y": {"field": "v", "type": "quantitative", "scale": {"domain": [-2, 3], "nice": false, "zero": false}, "axis": {"orient": "left", "values": [-2,-1,0,1,2,3], "offset": -8, "tickSize": 8, "labelPadding": 7, "format": "d", "title": null}},
  "color": {"field": "sc", "type": "nominal", "scale": {"domain": ["C1","C2","C3","C4"], "range": ["#000000","#ee1c1c","#2cdc2c","#1c1cee"]}, "legend": null}
 }},
{"mark": {"type": "point", "opacity": 0},
 "encoding": {
  "x": {"field": "km", "type": "quantitative", "axis": {"orient": "top", "values": [-600,-400,-200,0,200,400,600], "offset": -8, "tickSize": 8, "labels": false, "title": null}},
  "y": {"field": "v", "type": "quantitative", "axis": {"orient": "right", "values": [-2,-1,0,1,2,3], "offset": -8, "tickSize": 8, "labels": false, "title": null}}
 }},
{"data": {"values": [{"xr": -200}, {"xr": 200}]},
 "mark": {"type": "rule", "strokeDash": [10, 4, 2, 4], "strokeWidth": 2, "color": "black"},
 "encoding": {"x": {"field": "xr", "type": "quantitative", "axis": null}}}
],
"resolve": {"axis": {"x": "independent", "y": "independent"}}
}
],
"config": {
 "font": "DejaVu Sans",
 "view": {"stroke": "#000000", "strokeWidth": 2},
 "title": {"font": "DejaVu Sans", "color": "#000000"},
 "axis": {"grid": false, "domain": false, "ticks": true, "tickColor": "#000000", "tickWidth": 1.5, "tickOpacity": 1, "labelColor": "#000000", "labelFont": "DejaVu Sans", "labelFontSize": 17, "titleFont": "DejaVu Sans", "titleFontWeight": "normal", "titleColor": "#000000", "labelFlush": false, "labelOverlap": false, "labelBound": false},
 "legend": {"padding": 0, "titleFont": "DejaVu Sans", "titleFontSize": 14.5, "titleFontWeight": "normal", "titleColor": "#000000", "labelFont": "DejaVu Sans", "labelFontSize": 14.5, "labelLimit": 400}
}
}
